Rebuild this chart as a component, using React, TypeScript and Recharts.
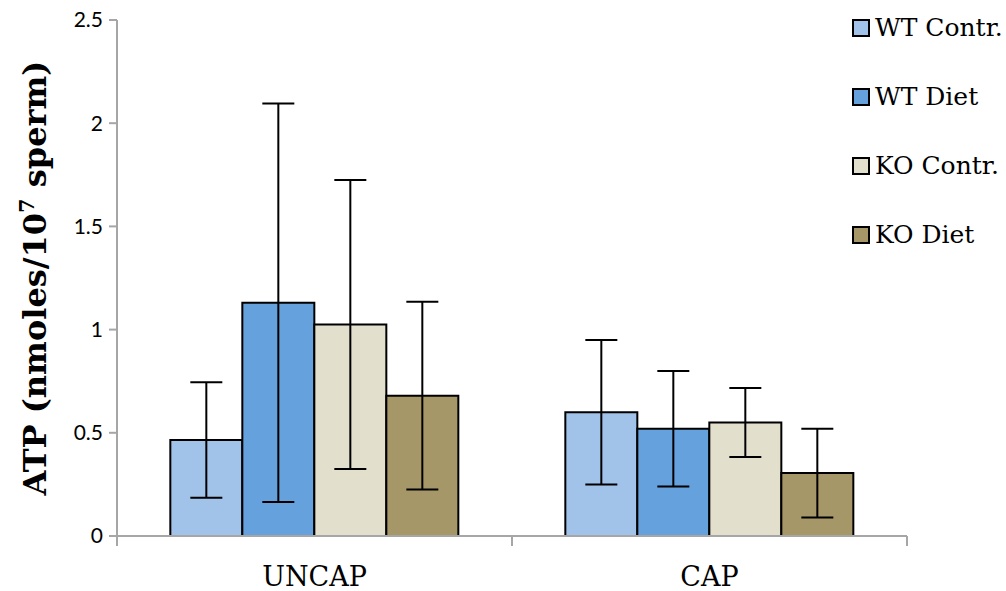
import { Bar, BarChart, ErrorBar, XAxis, YAxis } from 'recharts'

const categories = ['UNCAP', 'CAP']
const seriesNames = ['WT Contr.', 'WT Diet', 'KO Contr.', 'KO Diet']
const wtContr = [0.465, 0.6]
const wtDiet = [1.13, 0.52]
const koContr = [1.025, 0.55]
const koDiet = [0.68, 0.305]
const wtContrErr = [0.28, 0.35]
const wtDietErr = [0.965, 0.28]
const koContrErr = [0.7, 0.167]
const koDietErr = [0.455, 0.215]
const yTicks = [0, 0.5, 1, 1.5, 2, 2.5]

const COLORS = ['#A1C2E9', '#65A1DD', '#E2DFCC', '#A59767']
const KEYS = ['wtContr', 'wtDiet', 'koContr', 'koDiet']

const data = categories.map((name, i) => ({
  name,
  wtContr: wtContr[i],
  wtDiet: wtDiet[i],
  koContr: koContr[i],
  koDiet: koDiet[i],
  wtContrErr: wtContrErr[i],
  wtDietErr: wtDietErr[i],
  koContrErr: koContrErr[i],
  koDietErr: koDietErr[i],
}))

const AXIS_GRAY = '#A6A6A6'
const SERIF = '"DejaVu Serif", serif'
const CHART_W = 1006
const PLOT_LEFT = 117
const PLOT_RIGHT = 99
const BAND = (CHART_W - PLOT_LEFT - PLOT_RIGHT) / categories.length

function YTitle() {
  return (
    <text
      x={0}
      y={0}
      transform="translate(46, 278) rotate(-90)"
      textAnchor="middle"
      fontFamily={SERIF}
      fontWeight="bold"
      fontSize={32}
      fill="#000"
    >
      ATP (nmoles/10
      <tspan dy={-12} fontSize={21}>7</tspan>
      <tspan dy={12}> sperm)</tspan>
    </text>
  )
}

// category label plus the tick marks that sit on the band edges
function CategoryTick(props: any) {
  const { x, y, payload, index } = props
  const left = x - BAND / 2
  const right = x + BAND / 2
  return (
    <g>
      <line x1={left} x2={left} y1={y - 2} y2={y + 8} stroke={AXIS_GRAY} strokeWidth={2} />
      {index === categories.length - 1 && (
        <line x1={right} x2={right} y1={y - 2} y2={y + 8} stroke={AXIS_GRAY} strokeWidth={2} />
      )}
      <text x={x} y={y + 48} textAnchor="middle" fontFamily={SERIF} fontSize={27} fill="#000">
        {payload.value}
      </text>
    </g>
  )
}

function Legend() {
  return (
    <div style={{ position: 'absolute', left: 852, top: -7 }}>
      {seriesNames.map((s, i) => (
        <div key={s} style={{ display: 'flex', alignItems: 'center', height: 69 }}>
          <div
            style={{
              width: 14,
              height: 14,
              background: COLORS[i],
              border: '2px solid #000',
              marginRight: 5,
            }}
          />
          <span style={{ fontFamily: SERIF, fontSize: 25, color: '#000', lineHeight: '28px' }}>{s}</span>
        </div>
      ))}
    </div>
  )
}

export default function App() {
  return (
    <div style={{ position: 'absolute', left: 0, top: 0, width: 1006, height: 591, background: '#fff' }}>
      <BarChart
        width={CHART_W}
        height={591}
        data={data}
        margin={{ top: 20, right: PLOT_RIGHT, left: 0, bottom: 0 }}
        barGap={0}
        barCategoryGap="13.5%"
      >
        <XAxis
          dataKey="name"
          axisLine={{ stroke: AXIS_GRAY, strokeWidth: 2 }}
          tickLine={false}
          height={55}
          tickSize={0}
          tick={<CategoryTick />}
        />
        <YAxis
          domain={[0, 2.5]}
          ticks={yTicks}
          width={PLOT_LEFT}
          axisLine={{ stroke: AXIS_GRAY, strokeWidth: 2 }}
          tickLine={{ stroke: AXIS_GRAY, strokeWidth: 2 }}
          tickSize={8}
          tickMargin={6}
          tick={{ fontFamily: 'Lato, sans-serif', fontSize: 21, fill: '#000' }}
          label={<YTitle />}
        />
        {KEYS.map((k, i) => (
          <Bar
            key={k}
            dataKey={k}
            name={seriesNames[i]}
            fill={COLORS[i]}
            stroke="#000"
            strokeWidth={2}
            isAnimationActive={false}
          >
            <ErrorBar dataKey={`${k}Err`} width={16} stroke="#000" strokeWidth={2} />
          </Bar>
        ))}
      </BarChart>
      <Legend />
    </div>
  )
}
